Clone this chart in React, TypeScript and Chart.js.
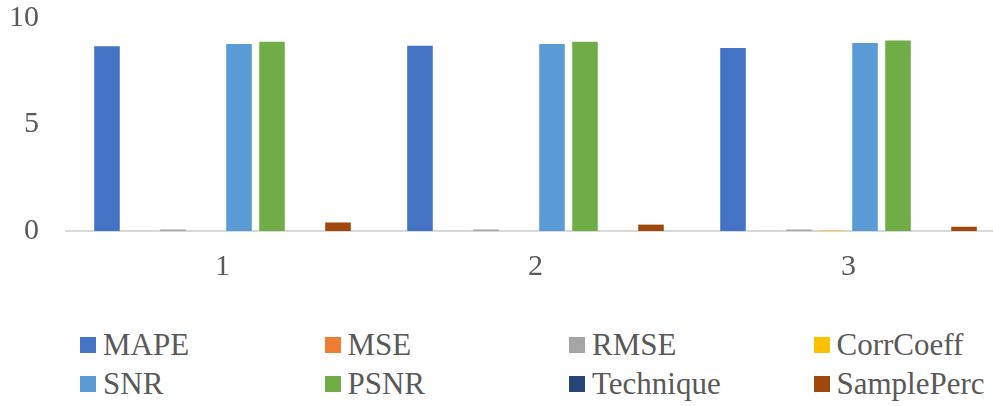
import React, { useEffect, useRef } from "react";
import { Chart, registerables } from "chart.js";

Chart.register(...registerables);

// Categories and per-metric values
const categories = ["1", "2", "3"];
const seriesNames = ["MAPE", "MSE", "RMSE", "CorrCoeff", "SNR", "PSNR", "Technique", "SamplePerc"];
const mape = [8.67, 8.7, 8.59];
const mse = [0.002, 0.002, 0.002];
const rmse = [0.07, 0.07, 0.07];
const corrCoeff = [0, 0, 0.03];
const snr = [8.78, 8.78, 8.83];
const psnr = [8.88, 8.88, 8.94];
const technique = [0, 0, 0];
const samplePerc = [0.4, 0.3, 0.2];
const yTicks = [0, 5, 10];

const seriesValues = [mape, mse, rmse, corrCoeff, snr, psnr, technique, samplePerc];
const seriesColors = [
  "#4472C4",
  "#ED7D31",
  "#A5A5A5",
  "#FFC000",
  "#5B9BD5",
  "#70AD47",
  "#264478",
  "#9E480E",
];

const FONT = "'Liberation Serif', 'Times New Roman', serif";
const TEXT_COLOR = "#595959";

// Pins the top of the plot area to a fixed pixel row inside the canvas.
const plotFrame = {
  id: "plotFrame",
  afterLayout(chart: any) {
    const area = chart.chartArea;
    const top = 18;
    if (area.top !== top) {
      const y = chart.scales.y;
      area.top = top;
      area.height = area.bottom - top;
      y.top = top;
      y.height = area.bottom - top;
      y.configure();
      y._gridLineItems = null;
      y._labelItems = null;
    }
  },
};

export default function App() {
  const canvasRef = useRef<HTMLCanvasElement | null>(null);

  useEffect(() => {
    const canvas = canvasRef.current;
    if (!canvas) return;
    const chart = new Chart(canvas, {
      type: "bar",
      data: {
        labels: categories,
        datasets: seriesNames.map((name, i) => ({
          label: name,
          data: seriesValues[i],
          backgroundColor: seriesColors[i],
          borderWidth: 0,
          categoryPercentage: 0.8435,
          barPercentage: 0.775,
        })),
      },
      options: {
        responsive: false,
        animation: false,
        devicePixelRatio: 1,
        layout: { padding: 0 },
        plugins: {
          legend: { display: false },
          tooltip: { enabled: false },
        },
        scales: {
          x: {
            grid: { display: true, color: "transparent", drawOnChartArea: false, drawTicks: false },
            border: { display: true, color: "#D9D9D9", width: 2 },
            ticks: {
              padding: 18,
              color: TEXT_COLOR,
              font: { family: FONT, size: 30 },
            },
            afterFit: (scale: any) => {
              scale.height = 54;
            },
          },
          y: {
            min: 0,
            max: 10,
            grid: { display: false, drawTicks: false },
            border: { display: false },
            afterBuildTicks: (scale: any) => {
              scale.ticks = yTicks.map((v) => ({ value: v }));
            },
            ticks: {
              padding: 27,
              color: TEXT_COLOR,
              font: { family: FONT, size: 30 },
            },
            afterFit: (scale: any) => {
              scale.width = 66;
            },
          },
        },
      },
      plugins: [plotFrame],
    });
    return () => chart.destroy();
  }, []);

  const colLefts = [80, 324.5, 569, 813.5];
  const rowCenters = [344.5, 383.5];

  return (
    <div
      style={{
        position: "fixed",
        left: 0,
        top: 0,
        width: 993,
        height: 406,
        overflow: "hidden",
        background: "#ffffff",
      }}
    >
      <canvas
        ref={canvasRef}
        width={1005}
        height={285}
        style={{ position: "absolute", left: 0, top: 0, width: 1005, height: 285 }}
      />
      {seriesNames.map((name, i) => {
        const row = Math.floor(i / 4);
        const col = i % 4;
        return (
          <div
            key={name}
            style={{
              position: "absolute",
              left: colLefts[col],
              top: rowCenters[row] - 16,
              height: 32,
              display: "flex",
              alignItems: "center",
              whiteSpace: "nowrap",
            }}
          >
            <span
              style={{
                display: "inline-block",
                width: 16,
                height: 16,
                background: seriesColors[i],
                marginRight: 7,
              }}
            />
            <span
              style={{
                fontFamily: FONT,
                fontSize: 31,
                lineHeight: "32px",
                color: TEXT_COLOR,
              }}
            >
              {name}
            </span>
          </div>
        );
      })}
    </div>
  );
}
